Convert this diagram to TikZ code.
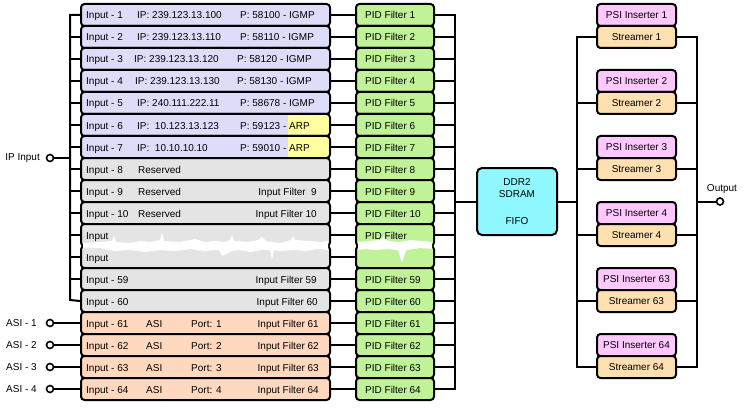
\documentclass[tikz,border=0pt]{standalone}
\usepackage{fontspec}
\setmainfont{Liberation Sans}
\definecolor{ipc}{RGB}{221,221,250}
\definecolor{arpc}{RGB}{255,255,160}
\definecolor{resc}{RGB}{228,228,228}
\definecolor{asic}{RGB}{255,216,192}
\definecolor{pidc}{RGB}{192,242,152}
\definecolor{ddrc}{RGB}{144,248,255}
\definecolor{psic}{RGB}{255,200,255}
\definecolor{strc}{RGB}{255,224,176}
\begin{document}
\begin{tikzpicture}[x=1pt,y=-1pt,
  font=\fontsize{10}{12}\selectfont,
  wire/.style={line width=2pt},
  cham/.style={rectangle, rounded corners=3.5pt,
    draw, line width=2pt, inner sep=0pt, minimum height=22pt, text height=7.5pt, text depth=0.5pt},
  inbox/.style={cham, minimum width=249pt},
  pidbox/.style={cham, minimum width=78pt, fill=pidc},
  sbox/.style={cham, minimum width=79pt},
  ddrbox/.style={rectangle, rounded corners=5pt,
    draw, line width=2pt, fill=ddrc, minimum width=80pt, minimum height=67pt, inner sep=0pt, align=center},
  term/.style={circle, draw, fill=white, line width=1.6pt, minimum size=7pt, inner sep=0pt},
  lt/.style={anchor=base west, inner sep=0pt},
  rt/.style={anchor=base east, inner sep=0pt},
  arp/.style={path picture={\fill[arpc] ([xshift=-42pt,yshift=5pt]path picture bounding box.north east) rectangle ([xshift=5pt,yshift=-5pt]path picture bounding box.south east);}},
  tear/.style={fill=white, draw=none}
]
\useasboundingbox (0,0) rectangle (744,409);

% input boxes
\foreach \i in {1,...,5} \node[inbox, fill=ipc] (in\i) at (205.5,{15+22*(\i-1)}) {};
\foreach \i in {6,7} \node[inbox, fill=ipc, arp] (in\i) at (205.5,{15+22*(\i-1)}) {};
\foreach \i in {8,...,14} \node[inbox, fill=resc] (in\i) at (205.5,{15+22*(\i-1)}) {};
\foreach \i in {15,...,18} \node[inbox, fill=asic] (in\i) at (205.5,{15+22*(\i-1)}) {};
% PID boxes
\foreach \i in {1,...,18} \node[pidbox] (pid\i) at (395,{15+22*(\i-1)}) {};

% bus coordinates
\coordinate (lbb) at (70,300);
\coordinate (pbb) at (455,389);
\coordinate (pbj) at (455,201.5);

% left bus
\draw[wire] (in1.west) -| (lbb) -- (in14.west);
\foreach \i in {2,...,13} \draw[wire] (in\i.west) -- (in\i.west -| lbb);
% input -> PID -> bus
\foreach \i in {1,...,18} \draw[wire] (in\i.east) -- (pid\i.west);
\draw[wire] (pid1.east) -| (pbb) -- (pid18.east);
\foreach \i in {2,...,17} \draw[wire] (pid\i.east) -- (pid\i.east -| pbb);

% torn band
\fill[tear] (83,243) -- (100,242) -- (112,241) -- (114,235) -- (116,242) -- (130,243) -- (140,241) -- (150,242)
  -- (160,240) -- (162,232) -- (164,241) -- (180,242) -- (195,239) -- (205,242) -- (215,241) -- (225,242)
  -- (230,240) -- (232,235) -- (234,241) -- (248,242) -- (258,240) -- (262,237) -- (266,241) -- (280,243)
  -- (291,240) -- (293,236) -- (295,240) -- (310,241) -- (320,242) -- (328,241)
  -- (328,250) -- (318,249) -- (305,251) -- (295,250) -- (280,251) -- (274,250) -- (272,259) -- (270,250)
  -- (262,250) -- (250,252) -- (240,250) -- (232,251) -- (222,256) -- (219,250) -- (205,251) -- (190,249)
  -- (175,251) -- (160,250) -- (145,252) -- (130,250) -- (115,251) -- (100,248) -- (83,248) -- cycle;
\fill[tear] (358,242) -- (368,241) -- (380,240) -- (384,236) -- (388,241) -- (400,242) -- (410,240) -- (422,241)
  -- (432,242) -- (432,249) -- (420,248) -- (406,250) -- (402,263) -- (398,250) -- (388,249) -- (375,250)
  -- (365,249) -- (358,250) -- cycle;

% IP input terminal
\node[term] (ipt) at (50,158) {};
\draw[wire] (ipt) -- (ipt -| lbb);
\node[anchor=east, inner sep=0pt] (iplab) at (40,158) {IP Input};
% ASI terminals
\foreach \k/\i in {1/15,2/16,3/17,4/18} {
  \node[term] (asi\k) at (50,{15+22*(\i-1)}) {};
  \draw[wire] (asi\k) -- (in\i.west);
  \node[anchor=east, inner sep=0pt] (asilab\k) at (37,{15+22*(\i-1)}) {ASI - \k};
}

% input texts
\foreach \i/\a/\b/\c/\bx/\cx in {
  1/Input - 1/IP: 239.123.13.100/P: 58100 - IGMP/137/240,
  2/Input - 2/IP: 239.123.13.110/P: 58110 - IGMP/137/240,
  3/Input - 3/IP: 239.123.13.120/P: 58120 - IGMP/134/237,
  4/Input - 4/IP: 239.123.13.130/P: 58130 - IGMP/135/237,
  5/Input - 5/IP: 240.111.222.11/P: 58678 - IGMP/137/240,
  6/Input - 6/IP:\ \ 10.123.13.123/P: 59123 - ARP/137/240,
  7/Input - 7/IP:\ \ 10.10.10.10/P: 59010 - ARP/137/240} {
  \node[lt] (ta\i) at (86,{19+22*(\i-1)}) {\a};
  \node[lt] (tb\i) at (\bx,{19+22*(\i-1)}) {\b};
  \node[lt] (tc\i) at (\cx,{19+22*(\i-1)}) {\c};
}
\node[lt] (ta8) at (86,173) {Input - 8};
\node[lt] (tb8) at (138,173) {Reserved};
\node[lt] (ta9) at (86,195) {Input - 9};
\node[lt] (tb9) at (138,195) {Reserved};
\node[rt] (tc9) at (317,195) {Input Filter\ \ 9};
\node[lt] (ta10) at (86,217) {Input - 10};
\node[lt] (tb10) at (138,217) {Reserved};
\node[rt] (tc10) at (317,217) {Input Filter 10};
\node[lt] (ta11) at (86,239) {Input};
\node[lt] (ta12) at (86,261) {Input};
\node[lt] (ta13) at (86,283) {Input - 59};
\node[rt] (tc13) at (317,283) {Input Filter 59};
\node[lt] (ta14) at (86,305) {Input - 60};
\node[rt] (tc14) at (318,305) {Input Filter 60};
\foreach \i/\n/\p in {15/61/1,16/62/2,17/63/3,18/64/4} {
  \node[lt] (ta\i) at (86,{19+22*(\i-1)}) {Input - \n};
  \node[lt] (tb\i) at (146,{19+22*(\i-1)}) {ASI};
  \node[lt] (tp\i) at (191,{19+22*(\i-1)}) {Port: \p};
  \node[rt] (tc\i) at (319,{19+22*(\i-1)}) {Input Filter \n};
}
% PID texts
\foreach \i/\n in {1/1,2/2,3/3,4/4,5/5,6/6,7/7,8/8,9/9,10/10,13/59,14/60,15/61,16/62,17/63,18/64}
  \node[lt] (pt\i) at (365,{19+22*(\i-1)}) {PID Filter \n};
\node[lt] (pt11) at (365,239) {PID Filter};

% DDR2 FIFO
\node[ddrbox] (ddr) at (517,201.5) {DDR2\\SDRAM\\[15pt]FIFO};
\draw[wire] (pbj) -- (ddr.west);
\coordinate (rbj) at (577,201.5);
\draw[wire] (ddr.east) -- (rbj);

% PSI inserters and streamers
\foreach \k/\n in {1/1,2/2,3/3,4/4,5/63,6/64} {
  \node[sbox, fill=psic] (psi\k) at (636.5,{15+66*(\k-1)}) {PSI Inserter \n};
  \node[sbox, fill=strc] (str\k) at (636.5,{37+66*(\k-1)}) {Streamer \n};
}
\coordinate (sb1) at (577,367);
\coordinate (sb2) at (697,367);
\draw[wire] (str1.west) -| (sb1) -- (str6.west);
\draw[wire] (str1.east) -| (sb2) -- (str6.east);
\foreach \k in {2,...,5} {
  \draw[wire] (str\k.west) -- (str\k.west -| sb1);
  \draw[wire] (str\k.east) -- (str\k.east -| sb2);
}
% output
\coordinate (outj) at (697,201.5);
\node[term] (out) at (720,201.5) {};
\draw[wire] (outj) -- (out);
\node[inner sep=0pt] (outlab) at (722,189) {Output};
\end{tikzpicture}
\end{document}
